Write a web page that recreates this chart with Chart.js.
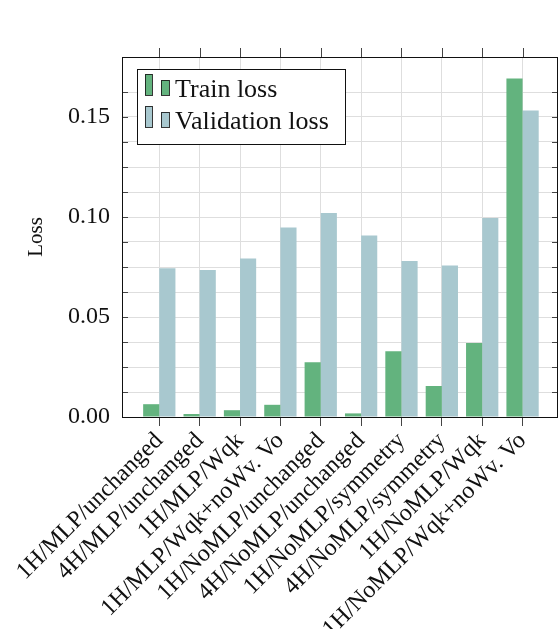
<!DOCTYPE html>
<html>
<head>
<meta charset="utf-8">
<script src="https://cdn.jsdelivr.net/npm/chart.js@4"></script>
<style>
  html, body { margin: 0; padding: 0; background: #fff; }
  #wrap { width: 560px; height: 629px; }
</style>
</head>
<body>
<div id="wrap"><canvas id="lossChart"></canvas></div>
<script>
// categories (runs) and losses
const runs = [
    '1H/MLP/unchanged',
    '4H/MLP/unchanged',
    '1H/MLP/Wqk',
    '1H/MLP/Wqk+noWv. Vo',
    '1H/NoMLP/unchanged',
    '4H/NoMLP/unchanged',
    '1H/NoMLP/symmetry',
    '4H/NoMLP/symmetry',
    '1H/NoMLP/Wqk',
    '1H/NoMLP/Wqk+noWv. Vo'
];
const trainLoss = [0.0064, 0.0015, 0.0034, 0.0061, 0.0274, 0.0018, 0.0329, 0.0155, 0.0370, 0.1692];
const validLoss = [0.0744, 0.0735, 0.0792, 0.0948, 0.1020, 0.0908, 0.0780, 0.0758, 0.0995, 0.1533];
const yLabelTicks = [0, 0.05, 0.10, 0.15];

const serif = '"Liberation Serif", "Times New Roman", Times, serif';
const verde = 'rgb(99, 179, 126)';
const azul = 'rgb(168, 200, 207)';

// caja del grafico, marcas de ejes y leyenda estilo pgfplots
const marcoPlugin = {
    id: 'marco',
    afterDraw(chart) {
        const ctx = chart.ctx;
        const a = chart.chartArea;
        const x = chart.scales.x, y = chart.scales.y;
        ctx.save();
        ctx.strokeStyle = '#444';
        ctx.lineWidth = 1;
        ctx.beginPath();
        y.ticks.forEach(t => {
            const py = Math.round(y.getPixelForValue(t.value)) + 0.5;
            ctx.moveTo(a.left, py); ctx.lineTo(a.left + 6, py);
            ctx.moveTo(a.right - 6, py); ctx.lineTo(a.right, py);
        });
        x.ticks.forEach(t => {
            const px = Math.round(x.getPixelForValue(t.value)) + 0.5;
            ctx.moveTo(px, a.top - 9); ctx.lineTo(px, a.top);
        });
        ctx.stroke();
        ctx.strokeStyle = '#111';
        ctx.strokeRect(Math.round(a.left) + 0.5, Math.round(a.top) + 0.5,
            Math.round(a.right - a.left) - 1, Math.round(a.bottom - a.top));

        // leyenda
        const lx = 137, ly = 69, lw = 208, lh = 75;
        ctx.fillStyle = '#fff';
        ctx.fillRect(lx, ly, lw, lh);
        ctx.strokeStyle = '#111';
        ctx.strokeRect(lx + 0.5, ly + 0.5, lw, lh);
        ctx.font = '26px ' + serif;
        ctx.textBaseline = 'alphabetic';
        chart.data.datasets.forEach((ds, i) => {
            const base = 97 + i * 32;
            ctx.fillStyle = ds.backgroundColor;
            ctx.strokeStyle = 'rgba(20,20,20,0.85)';
            ctx.fillRect(145, base - 23, 7, 21);
            ctx.strokeRect(145.5, base - 22.5, 7, 21);
            ctx.fillRect(161, base - 17, 8, 15);
            ctx.strokeRect(161.5, base - 16.5, 8, 15);
            ctx.fillStyle = '#111';
            ctx.fillText(ds.label, 175, base);
        });
        ctx.restore();
    }
};

function initLossChart() {
    const ctx = document.getElementById('lossChart').getContext('2d');
    return new Chart(ctx, {
        type: 'bar',
        data: {
            datasets: [
                {
                    label: 'Train loss',
                    data: trainLoss.map((v, i) => ({ x: i, y: v })),
                    backgroundColor: verde,
                    borderWidth: 0
                },
                {
                    label: 'Validation loss',
                    data: validLoss.map((v, i) => ({ x: i, y: v })),
                    backgroundColor: azul,
                    borderWidth: 0
                }
            ]
        },
        options: {
            responsive: true,
            maintainAspectRatio: false,
            animation: false,
            layout: { padding: { top: 57, right: 2, left: 0, bottom: 0 } },
            datasets: { bar: { categoryPercentage: 0.8, barPercentage: 1.0 } },
            plugins: {
                legend: { display: false },
                tooltip: { enabled: false }
            },
            scales: {
                x: {
                    type: 'linear',
                    offset: false,
                    min: -0.924,
                    max: 9.878,
                    afterBuildTicks: (scale) => {
                        scale.ticks = runs.map((_, i) => ({ value: i }));
                    },
                    afterFit: (scale) => { scale.height = 212; },
                    border: { display: false },
                    grid: {
                        offset: false,
                        color: '#dedede',
                        drawTicks: true,
                        tickLength: 9,
                        tickColor: '#444'
                    },
                    ticks: {
                        autoSkip: false,
                        minRotation: 45,
                        maxRotation: 45,
                        padding: 1,
                        color: '#111',
                        font: { family: serif, size: 24 },
                        callback: (v) => runs[v] ?? ''
                    }
                },
                y: {
                    min: 0,
                    max: 0.18,
                    afterFit: (scale) => { scale.width = 122; },
                    border: { display: false },
                    grid: { color: '#dedede', drawTicks: false },
                    title: {
                        display: true,
                        text: 'Loss',
                        color: '#111',
                        font: { family: serif, size: 21 },
                        padding: { top: 24, bottom: 0 }
                    },
                    ticks: {
                        stepSize: 0.0125,
                        autoSkip: false,
                        padding: 12,
                        color: '#111',
                        font: { family: serif, size: 24 },
                        callback: (v) => yLabelTicks.some(t => Math.abs(t - v) < 1e-6) ? v.toFixed(2) : ''
                    }
                }
            }
        },
        plugins: [marcoPlugin]
    });
}

document.fonts.load('24px "Liberation Serif"').then(initLossChart, initLossChart);
</script>
</body>
</html>
